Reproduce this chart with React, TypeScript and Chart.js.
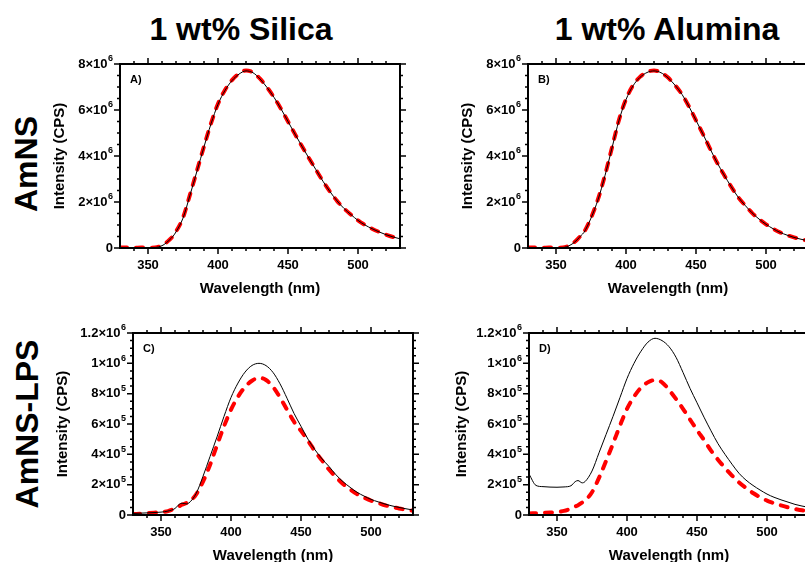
import React, { useEffect, useRef } from 'react';
import { Chart, registerables } from 'chart.js';

Chart.register(...registerables);

// ---------------- data ----------------
const WAVELENGTHS = [330, 335, 340, 345, 350, 355, 360, 363, 365, 368, 370, 375, 380, 385, 390, 395, 400, 405, 410, 415, 420, 425, 430, 435, 440, 445, 450, 455, 460, 465, 470, 475, 480, 485, 490, 495, 500, 505, 510, 515, 520, 525, 530];

// Panel A: AmNS, 1 wt% Silica
const A_SOLID = [2e4, 2e4, 1e4, 1e4, 1e4, 2e4, 1.0e5, 2.2e5, 3.3e5, 5.2e5, 7.0e5, 1.3e6, 2.3e6, 3.35e6, 4.4e6, 5.4e6, 6.25e6, 6.85e6, 7.28e6, 7.56e6, 7.7e6, 7.62e6, 7.35e6, 6.98e6, 6.55e6, 6.05e6, 5.5e6, 4.95e6, 4.42e6, 3.9e6, 3.4e6, 2.9e6, 2.45e6, 2.05e6, 1.72e6, 1.45e6, 1.2e6, 1.0e6, 8.4e5, 7.0e5, 5.8e5, 4.8e5, 4.0e5];
const A_DASHED = [2e4, 2e4, 1e4, 2e4, 1e4, 2e4, 1.1e5, 2.3e5, 3.4e5, 5.3e5, 7.1e5, 1.32e6, 2.32e6, 3.37e6, 4.42e6, 5.42e6, 6.27e6, 6.87e6, 7.3e6, 7.58e6, 7.72e6, 7.63e6, 7.36e6, 6.99e6, 6.55e6, 6.05e6, 5.5e6, 4.95e6, 4.42e6, 3.9e6, 3.4e6, 2.9e6, 2.45e6, 2.05e6, 1.72e6, 1.45e6, 1.2e6, 1.0e6, 8.4e5, 7.0e5, 5.8e5, 4.8e5, 4.0e5];

// Panel B: AmNS, 1 wt% Alumina
const B_SOLID = [2e4, 2e4, 1e4, 2e4, 1e4, 2e4, 1.2e5, 2.4e5, 3.5e5, 5.5e5, 6.8e5, 1.3e6, 2.1e6, 3.15e6, 4.35e6, 5.55e6, 6.45e6, 7.05e6, 7.42e6, 7.63e6, 7.7e6, 7.62e6, 7.4e6, 7.08e6, 6.68e6, 6.15e6, 5.55e6, 4.95e6, 4.32e6, 3.72e6, 3.18e6, 2.68e6, 2.22e6, 1.86e6, 1.53e6, 1.26e6, 1.03e6, 8.4e5, 6.8e5, 5.6e5, 4.6e5, 3.8e5, 3.2e5];
const B_DASHED = [2e4, 2e4, 1e4, 2e4, 1e4, 2e4, 1.3e5, 2.5e5, 3.6e5, 5.6e5, 6.9e5, 1.31e6, 2.12e6, 3.17e6, 4.37e6, 5.57e6, 6.47e6, 7.07e6, 7.44e6, 7.65e6, 7.72e6, 7.63e6, 7.41e6, 7.08e6, 6.68e6, 6.15e6, 5.55e6, 4.95e6, 4.32e6, 3.72e6, 3.18e6, 2.68e6, 2.22e6, 1.86e6, 1.53e6, 1.26e6, 1.03e6, 8.4e5, 6.8e5, 5.6e5, 4.6e5, 3.8e5, 3.2e5];

// Panel C: AmNS-LPS, 1 wt% Silica
const C_SOLID = [1.0e4, 1.2e4, 1.4e4, 1.6e4, 1.9e4, 2.6e4, 4.3e4, 7.0e4, 7.8e4, 7.3e4, 8.0e4, 1.4e5, 2.55e5, 3.85e5, 5.15e5, 6.5e5, 7.75e5, 8.7e5, 9.42e5, 9.86e5, 1.0e6, 9.85e5, 9.4e5, 8.65e5, 7.7e5, 6.7e5, 5.85e5, 5.0e5, 4.3e5, 3.7e5, 3.2e5, 2.65e5, 2.2e5, 1.83e5, 1.5e5, 1.25e5, 1.03e5, 8.7e4, 7.2e4, 6.0e4, 5.0e4, 4.1e4, 3.3e4];
const C_DASHED = [6e3, 9e3, 1.2e4, 1.5e4, 1.8e4, 2.6e4, 4.3e4, 5.8e4, 6.8e4, 7.8e4, 8.6e4, 1.35e5, 2.2e5, 3.3e5, 4.6e5, 5.85e5, 6.95e5, 7.8e5, 8.45e5, 8.85e5, 9.05e5, 8.9e5, 8.45e5, 7.75e5, 6.95e5, 6.15e5, 5.55e5, 4.9e5, 4.2e5, 3.6e5, 3.0e5, 2.5e5, 2.05e5, 1.7e5, 1.38e5, 1.15e5, 9.5e4, 8.0e4, 6.4e4, 5.3e4, 4.3e4, 3.5e4, 2.8e4];

// Panel D: AmNS-LPS, 1 wt% Alumina
const D_SOLID = [2.7e5, 1.95e5, 1.87e5, 1.84e5, 1.83e5, 1.85e5, 1.93e5, 2.2e5, 2.27e5, 2.12e5, 2.2e5, 2.9e5, 4.1e5, 5.3e5, 6.5e5, 7.75e5, 9.0e5, 1.0e6, 1.08e6, 1.14e6, 1.165e6, 1.15e6, 1.11e6, 1.04e6, 9.4e5, 8.35e5, 7.4e5, 6.45e5, 5.55e5, 4.7e5, 4.0e5, 3.35e5, 2.75e5, 2.3e5, 1.95e5, 1.65e5, 1.38e5, 1.17e5, 1.0e5, 8.5e4, 7.0e4, 5.9e4, 5.0e4];
const D_DASHED = [1.0e4, 1.2e4, 1.4e4, 1.6e4, 1.9e4, 2.7e4, 4.3e4, 5.6e4, 6.5e4, 8.2e4, 9.5e4, 1.5e5, 2.45e5, 3.55e5, 4.7e5, 5.9e5, 7.0e5, 7.8e5, 8.4e5, 8.75e5, 8.9e5, 8.75e5, 8.25e5, 7.65e5, 7.0e5, 6.3e5, 5.6e5, 4.95e5, 4.25e5, 3.65e5, 3.1e5, 2.6e5, 2.15e5, 1.78e5, 1.45e5, 1.18e5, 9.5e4, 7.8e4, 6.3e4, 5.0e4, 4.0e4, 3.1e4, 2.5e4];

// ---------------- ticks ----------------
const X_MIN = 330;
const X_MAX = 530;
const X_TICKS = [350, 400, 450, 500];
const X_MINOR_TICKS = [340, 350, 360, 370, 380, 390, 400, 410, 420, 430, 440, 450, 460, 470, 480, 490, 500, 510, 520];

const Y_MAX_TOP = 8e6;
const Y_TICKS_TOP = [0, 2e6, 4e6, 6e6, 8e6];
const Y_LABELS_TOP = ['0', '2×10⁶', '4×10⁶', '6×10⁶', '8×10⁶'];
const Y_MINOR_TOP = [0, 5e5, 1e6, 1.5e6, 2e6, 2.5e6, 3e6, 3.5e6, 4e6, 4.5e6, 5e6, 5.5e6, 6e6, 6.5e6, 7e6, 7.5e6, 8e6];

const Y_MAX_BOTTOM = 1.2e6;
const Y_TICKS_BOTTOM = [0, 2e5, 4e5, 6e5, 8e5, 1e6, 1.2e6];
const Y_LABELS_BOTTOM = ['0', '2×10⁵', '4×10⁵', '6×10⁵', '8×10⁵', '1×10⁶', '1.2×10⁶'];
const Y_MINOR_BOTTOM = [0, 5e4, 1e5, 1.5e5, 2e5, 2.5e5, 3e5, 3.5e5, 4e5, 4.5e5, 5e5, 5.5e5, 6e5, 6.5e5, 7e5, 7.5e5, 8e5, 8.5e5, 9e5, 9.5e5, 1e6, 1.05e6, 1.1e6, 1.15e6, 1.2e6];

const COLUMN_TITLES = ['1 wt% Silica', '1 wt% Alumina'];
const ROW_TITLES = ['AmNS', 'AmNS-LPS'];
const X_TITLE = 'Wavelength (nm)';
const Y_TITLE = 'Intensity (CPS)';

// ---------------- layout ----------------
const FONT_FAMILY = '"Liberation Sans", Arial, Helvetica, sans-serif';
const Y_AXIS_W = 80;
const X_AXIS_H = 55;
const PAD_TOP = 14;
const PAD_RIGHT = 12;
const SUPERSCRIPTS = '⁰¹²³⁴⁵⁶⁷⁸⁹';

type PanelDef = {
  letter: string;
  solid: number[];
  dashed: number[];
  yMax: number;
  yTicks: number[];
  yLabels: string[];
  yMinor: number[];
  left: number;
  top: number;
  width: number;
  height: number;
  yTitlePad: number;
};

const PANELS: PanelDef[] = [
  { letter: 'A)', solid: A_SOLID, dashed: A_DASHED, yMax: Y_MAX_TOP, yTicks: Y_TICKS_TOP, yLabels: Y_LABELS_TOP, yMinor: Y_MINOR_TOP, left: 120, top: 64, width: 280, height: 184, yTitlePad: 11 },
  { letter: 'B)', solid: B_SOLID, dashed: B_DASHED, yMax: Y_MAX_TOP, yTicks: Y_TICKS_TOP, yLabels: Y_LABELS_TOP, yMinor: Y_MINOR_TOP, left: 528, top: 64, width: 280, height: 184, yTitlePad: 11 },
  { letter: 'C)', solid: C_SOLID, dashed: C_DASHED, yMax: Y_MAX_BOTTOM, yTicks: Y_TICKS_BOTTOM, yLabels: Y_LABELS_BOTTOM, yMinor: Y_MINOR_BOTTOM, left: 133, top: 333, width: 280, height: 182, yTitlePad: 1 },
  { letter: 'D)', solid: D_SOLID, dashed: D_DASHED, yMax: Y_MAX_BOTTOM, yTicks: Y_TICKS_BOTTOM, yLabels: Y_LABELS_BOTTOM, yMinor: Y_MINOR_BOTTOM, left: 529, top: 333, width: 280, height: 182, yTitlePad: 4 },
];

function splitLabel(label: string): [string, string] {
  let i = label.length;
  while (i > 0 && SUPERSCRIPTS.includes(label[i - 1])) i--;
  const base = label.slice(0, i);
  const exp = label
    .slice(i)
    .split('')
    .map((c) => String(SUPERSCRIPTS.indexOf(c)))
    .join('');
  return [base, exp];
}

function buildConfig(p: PanelDef): any {
  const solidData = WAVELENGTHS.map((x, i) => ({ x, y: p.solid[i] }));
  const dashedData = WAVELENGTHS.map((x, i) => ({ x, y: p.dashed[i] }));

  const framePlugin = {
    id: 'frame' + p.letter,
    afterDraw(chart: any) {
      const { ctx, chartArea: a } = chart;
      const xs = chart.scales.x;
      const ys = chart.scales.y;
      ctx.save();
      ctx.strokeStyle = '#000';
      ctx.lineWidth = 1.5;
      ctx.beginPath();
      for (const v of X_MINOR_TICKS) {
        const px = xs.getPixelForValue(v);
        const len = X_TICKS.includes(v) ? 6 : 3;
        ctx.moveTo(px, a.bottom);
        ctx.lineTo(px, a.bottom + len);
        ctx.moveTo(px, a.top);
        ctx.lineTo(px, a.top - len);
      }
      for (const v of p.yMinor) {
        const py = ys.getPixelForValue(v);
        const len = p.yTicks.includes(v) ? 6 : 3;
        ctx.moveTo(a.left, py);
        ctx.lineTo(a.left - len, py);
        ctx.moveTo(a.right, py);
        ctx.lineTo(a.right + len, py);
      }
      ctx.stroke();
      ctx.lineWidth = 2;
      ctx.strokeRect(a.left, a.top, a.right - a.left, a.bottom - a.top);

      // y tick labels with real superscript exponents
      ctx.fillStyle = '#000';
      ctx.textBaseline = 'middle';
      ctx.textAlign = 'right';
      p.yTicks.forEach((v, i) => {
        const py = ys.getPixelForValue(v);
        const [base, exp] = splitLabel(p.yLabels[i]);
        let xr = a.left - 7;
        if (exp) {
          ctx.font = `bold 9px ${FONT_FAMILY}`;
          ctx.fillText(exp, xr, py - 5);
          xr -= ctx.measureText(exp).width + 0.5;
        }
        ctx.font = `bold 13px ${FONT_FAMILY}`;
        ctx.fillText(base, xr, py);
      });

      ctx.font = `bold 11px ${FONT_FAMILY}`;
      ctx.textAlign = 'left';
      ctx.fillText(p.letter, a.left + 10, a.top + 16);
      ctx.restore();
    },
  };

  const tickFont = { family: FONT_FAMILY, size: 13, weight: 'bold' };
  const titleFont = { family: FONT_FAMILY, size: 15, weight: 'bold' };

  return {
    type: 'line',
    data: {
      datasets: [
        {
          label: 'solid',
          data: solidData,
          borderColor: '#000000',
          borderWidth: 1,
          pointRadius: 0,
          fill: false,
          cubicInterpolationMode: 'monotone',
        },
        {
          label: 'dashed',
          data: dashedData,
          borderColor: '#ff0000',
          borderWidth: 4,
          borderDash: [7, 9],
          borderCapStyle: 'round',
          pointRadius: 0,
          fill: false,
          cubicInterpolationMode: 'monotone',
        },
      ],
    },
    options: {
      animation: false,
      responsive: false,
      maintainAspectRatio: false,
      events: [],
      layout: { padding: { left: 0, top: PAD_TOP, right: PAD_RIGHT, bottom: 0 } },
      plugins: { legend: { display: false }, tooltip: { enabled: false } },
      scales: {
        x: {
          type: 'linear',
          min: X_MIN,
          max: X_MAX,
          afterFit: (s: any) => { s.height = X_AXIS_H; },
          afterBuildTicks: (s: any) => { s.ticks = X_TICKS.map((v) => ({ value: v })); },
          grid: { display: false, drawTicks: false },
          border: { display: false },
          ticks: {
            autoSkip: false,
            maxRotation: 0,
            padding: 10,
            color: '#000',
            font: tickFont,
            callback: (v: any) => String(v),
          },
          title: { display: true, text: X_TITLE, color: '#000', font: titleFont, padding: { top: 0, bottom: 5 } },
        },
        y: {
          type: 'linear',
          min: 0,
          max: p.yMax,
          afterFit: (s: any) => { s.width = Y_AXIS_W; },
          afterBuildTicks: (s: any) => { s.ticks = p.yTicks.map((v) => ({ value: v })); },
          grid: { display: false, drawTicks: false },
          border: { display: false },
          ticks: { display: false },
          title: { display: true, text: Y_TITLE, color: '#000', font: titleFont, padding: { top: p.yTitlePad, bottom: 0 } },
        },
      },
    },
    plugins: [framePlugin],
  };
}

function Panel({ p }: { p: PanelDef }) {
  const ref = useRef<HTMLCanvasElement>(null);
  const w = Y_AXIS_W + p.width + PAD_RIGHT;
  const h = PAD_TOP + p.height + X_AXIS_H;
  const left = p.left - Y_AXIS_W;
  const top = p.top - PAD_TOP;
  useEffect(() => {
    if (!ref.current) return;
    const chart = new Chart(ref.current, buildConfig(p));
    return () => chart.destroy();
  }, []);
  return (
    <canvas
      ref={ref}
      width={w}
      height={h}
      style={{ position: 'absolute', left, top, width: w, height: h }}
    />
  );
}

const headerStyle: React.CSSProperties = {
  position: 'absolute',
  width: 320,
  height: 32,
  lineHeight: '32px',
  fontSize: 32,
  fontWeight: 'bold',
  textAlign: 'center',
  whiteSpace: 'nowrap',
  color: '#000',
  fontFamily: FONT_FAMILY,
};

export default function App() {
  return (
    <div
      style={{
        position: 'absolute',
        left: 0,
        top: 0,
        width: 805,
        height: 562,
        overflow: 'hidden',
        background: '#fff',
        fontFamily: FONT_FAMILY,
      }}
    >
      <div style={{ ...headerStyle, left: 241 - 160, top: 13 }}>{COLUMN_TITLES[0]}</div>
      <div style={{ ...headerStyle, left: 667 - 160, top: 13 }}>{COLUMN_TITLES[1]}</div>
      <div style={{ ...headerStyle, left: 26 - 160, top: 164 - 16, transform: 'rotate(-90deg)' }}>{ROW_TITLES[0]}</div>
      <div style={{ ...headerStyle, left: 27 - 160, top: 424 - 16, transform: 'rotate(-90deg)' }}>{ROW_TITLES[1]}</div>
      {PANELS.map((p) => (
        <Panel key={p.letter} p={p} />
      ))}
    </div>
  );
}
